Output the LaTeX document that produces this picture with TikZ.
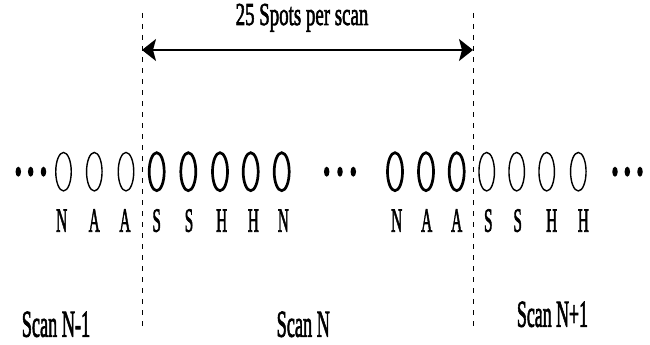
\documentclass[tikz,border=0pt]{standalone}
\usepackage{graphicx}
\usepackage{fontspec}
\setmainfont[FakeBold=2.4]{Liberation Serif}
\usetikzlibrary{shapes.geometric,arrows.meta}
% horizontally condensed text
\newcommand\narrowtext[2]{\scalebox{#1}[1]{#2}}
\begin{document}
\begin{tikzpicture}[x=1pt,y=-1pt,
  spot/.style={ellipse,draw,inner sep=0pt},
  thinspot/.style={spot,line width=1.4pt,minimum width=15.5pt,minimum height=38.5pt},
  boldspot/.style={spot,line width=2.7pt,minimum width=15pt,minimum height=38pt},
  dot/.style={ellipse,fill,inner sep=0pt,minimum width=5.5pt,minimum height=10pt},
  letter/.style={anchor=base,inner sep=0pt,font=\fontsize{34}{34}\selectfont},
  scanlabel/.style={anchor=base,inner sep=0pt,font=\fontsize{38}{38}\selectfont},
  divider/.style={line width=1pt,dash pattern=on 5pt off 6pt},
  span/.style={line width=1.8pt,{Stealth[length=14pt,width=22pt,inset=3pt]}-{Stealth[length=14pt,width=22pt,inset=3pt]}},
]
\useasboundingbox[fill=white] (0,0) rectangle (650,345);

% scan boundaries
\coordinate (lt) at (142,13);
\coordinate (lb) at (142,327);
\coordinate (rt) at (473,13);
\coordinate (rb) at (473,327);
\draw[divider] (lt) -- (lb);
\draw[divider] (rt) -- (rb);

% extent of one scan
\coordinate (al) at (142,50);
\coordinate (ar) at (473,50);
\draw[span] (al) -- (ar);
\node[anchor=base,inner sep=0pt,font=\fontsize{32}{32}\selectfont] (title) at (302,25) {\narrowtext{0.59}{25 Spots per scan}};

% spots of the previous scan
\node[dot] (d1) at (18.3,171.7) {};
\node[dot] (d2) at (30.7,171.7) {};
\node[dot] (d3) at (43.5,171.7) {};
\node[thinspot] (p1) at (63.5,171.7) {};
\node[thinspot] (p2) at (94.3,171.7) {};
\node[thinspot] (p3) at (126,171.7) {};
% spots of scan N
\node[boldspot] (n1) at (156.7,171.7) {};
\node[boldspot] (n2) at (188.3,171.7) {};
\node[boldspot] (n3) at (220,171.7) {};
\node[boldspot] (n4) at (250.7,171.7) {};
\node[boldspot] (n5) at (281.7,171.7) {};
\node[dot] (d4) at (326.7,171.7) {};
\node[dot] (d5) at (340,171.7) {};
\node[dot] (d6) at (353.3,171.7) {};
\node[boldspot] (n6) at (395,171.7) {};
\node[boldspot] (n7) at (426,171.7) {};
\node[boldspot] (n8) at (456.7,171.7) {};
% spots of the next scan
\node[thinspot] (q1) at (486.7,171.7) {};
\node[thinspot] (q2) at (516.7,171.7) {};
\node[thinspot] (q3) at (546.7,171.7) {};
\node[thinspot] (q4) at (578.3,171.7) {};
\node[dot] (d7) at (615,171.7) {};
\node[dot] (d8) at (627.3,171.7) {};
\node[dot] (d9) at (640,171.7) {};

% spot types
\node[letter] (l1) at (61.7,231.7) {\narrowtext{0.45}{N}};
\node[letter] (l2) at (94.3,231.7) {\narrowtext{0.45}{A}};
\node[letter] (l3) at (125,231.7) {\narrowtext{0.45}{A}};
\node[letter] (l4) at (156.7,231.7) {\narrowtext{0.45}{S}};
\node[letter] (l5) at (189,231.7) {\narrowtext{0.45}{S}};
\node[letter] (l6) at (221.7,231.7) {\narrowtext{0.45}{H}};
\node[letter] (l7) at (253.3,231.7) {\narrowtext{0.45}{H}};
\node[letter] (l8) at (283.3,231.7) {\narrowtext{0.45}{N}};
\node[letter] (l9) at (396.7,231.7) {\narrowtext{0.45}{N}};
\node[letter] (l10) at (426.7,231.7) {\narrowtext{0.45}{A}};
\node[letter] (l11) at (456.7,231.7) {\narrowtext{0.45}{A}};
\node[letter] (l12) at (488.3,231.7) {\narrowtext{0.45}{S}};
\node[letter] (l13) at (517.7,231.7) {\narrowtext{0.45}{S}};
\node[letter] (l14) at (551.7,231.7) {\narrowtext{0.45}{H}};
\node[letter] (l15) at (583.3,231.7) {\narrowtext{0.45}{H}};

% scan names
\node[scanlabel] (sprev) at (56,336.7) {\narrowtext{0.48}{Scan N-1}};
\node[scanlabel] (scur) at (303.3,336.7) {\narrowtext{0.48}{Scan N}};
\node[scanlabel] (snext) at (552.5,326.7) {\narrowtext{0.47}{Scan N+1}};
\end{tikzpicture}
\end{document}
